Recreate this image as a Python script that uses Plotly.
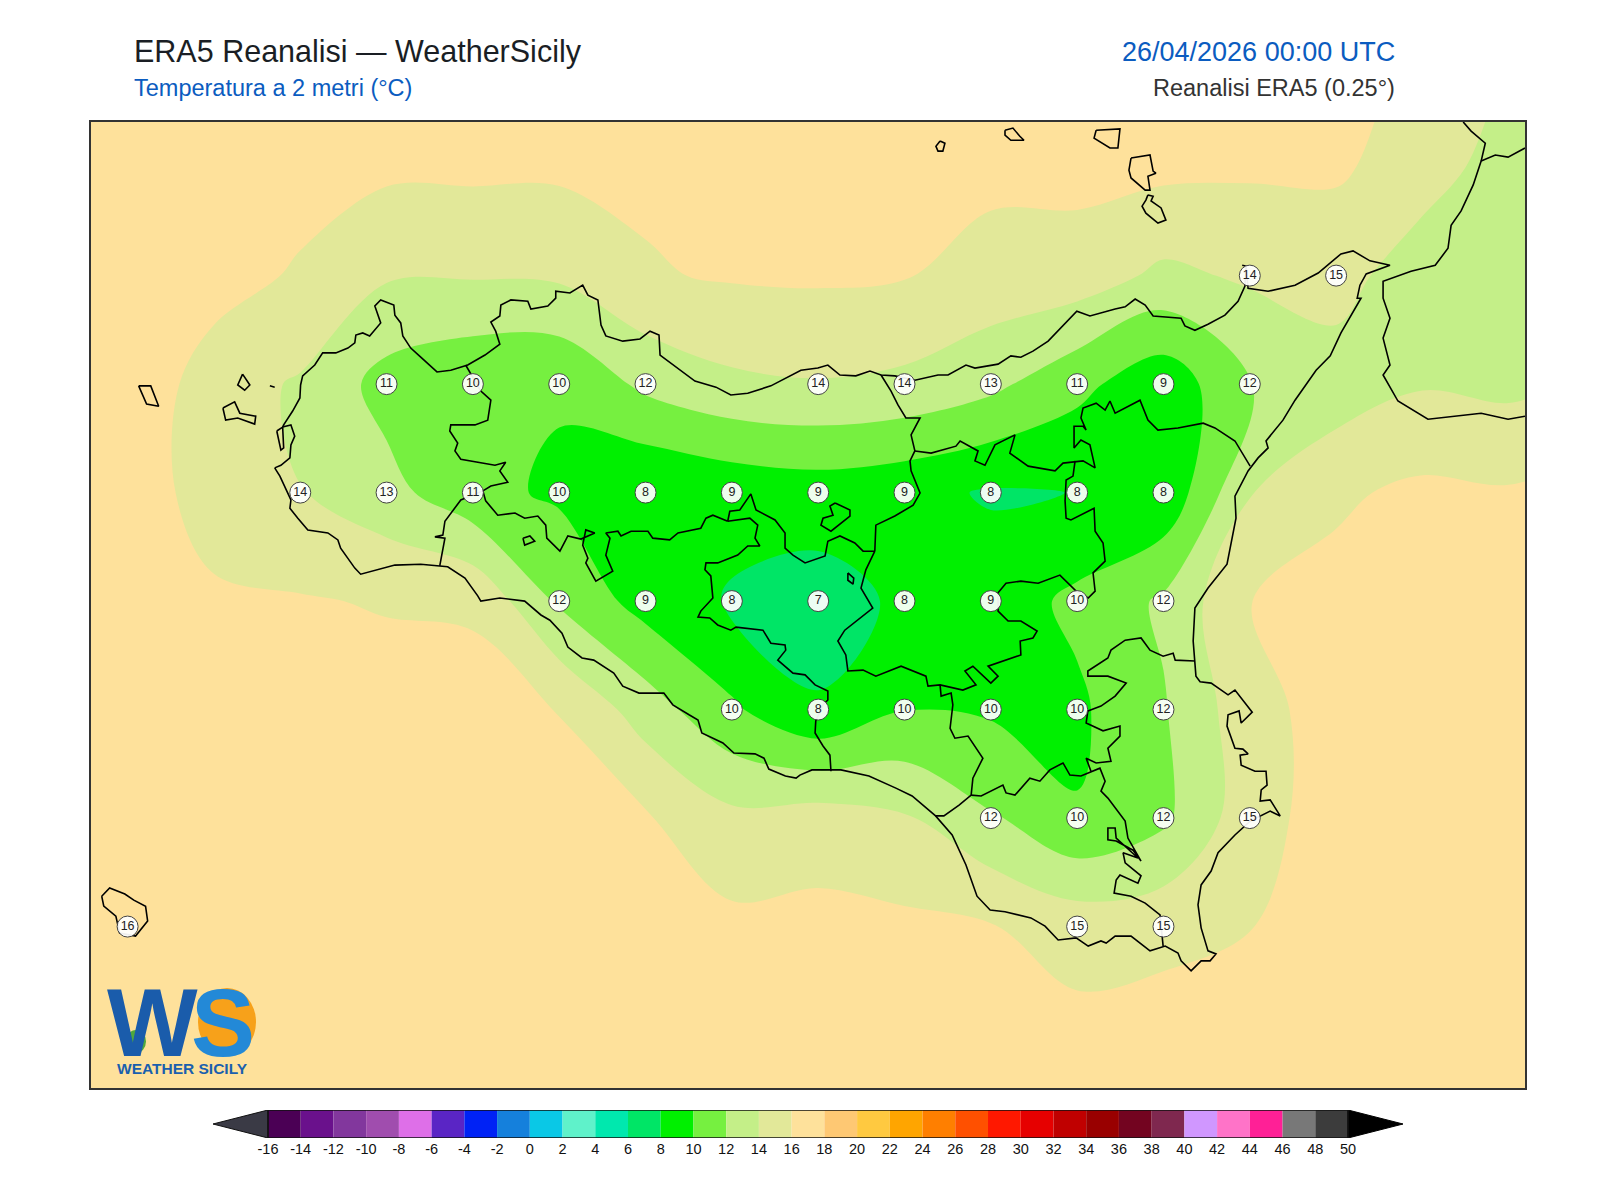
import plotly.graph_objects as go

lons = [11.75, 12.0, 12.25, 12.5, 12.75, 13.0, 13.25, 13.5, 13.75, 14.0, 14.25, 14.5, 14.75, 15.0, 15.25, 15.5, 15.75, 16.0, 16.25]
lats = [38.75, 38.5, 38.25, 38.0, 37.75, 37.5, 37.25, 37.0, 36.75, 36.5, 36.25]

t2m_3875 = [17.5, 17.5, 17.5, 17.5, 17.5, 17.5, 17.5, 17.5, 17.5, 17.5, 17.5, 17.5, 17.5, 17.5, 17.5, 17.0, 15.5, 14.1, 13.5]
t2m_3850 = [17.5, 17.5, 17.3, 17.0, 16.39, 16.4, 16.36, 16.32, 17.0, 17.2, 17.2, 16.47, 16.6, 16.5, 16.3, 16.23, 15.23, 12.77, 12.5]
t2m_3825 = [17.5, 17.5, 17.0, 15.7, 14.2, 14.15, 14.3, 15.84, 16.18, 16.28, 16.1, 15.3, 15.08, 13.56, 14.29, 15.0, 12.5, 12.3, 12.2]
t2m_3800 = [17.9, 17.8, 14.8, 13.8, 11.25, 10.3, 10.2, 12.45, 13.6, 13.87, 13.55, 12.5, 10.55, 8.68, 11.9, 12.8, 13.85, 13.54, 14.3]
t2m_3775 = [17.5, 17.0, 15.2, 14.03, 12.7, 10.55, 9.7, 8.05, 8.6, 8.97, 8.55, 7.82, 8.03, 8.4, 13.9, 15.7, 16.41, 16.19, 17.0]
t2m_3750 = [17.5, 17.5, 16.27, 16.15, 15.85, 15.7, 11.7, 9.2, 7.84, 7.17, 8.33, 8.95, 10.43, 12.3, 15.98, 16.6, 17.3, 17.3, 17.5]
t2m_3725 = [17.5, 17.5, 17.2, 17.0, 16.85, 16.8, 15.96, 13.05, 10.3, 8.18, 9.95, 9.75, 9.65, 11.83, 15.28, 16.85, 17.5, 17.5, 17.5]
t2m_3700 = [17.5, 17.5, 17.5, 17.5, 17.2, 17.0, 16.4, 16.2, 14.5, 14.95, 14.21, 12.22, 10.12, 11.6, 15.24, 16.89, 17.5, 17.5, 17.5]
t2m_3675 = [17.5, 16.4, 17.0, 17.3, 17.5, 17.5, 17.5, 17.3, 16.47, 16.58, 16.42, 16.1, 15.2, 15.4, 15.96, 16.6, 17.5, 17.5, 17.5]
t2m_3650 = [17.5, 17.5, 17.5, 17.5, 17.5, 17.5, 17.5, 17.5, 17.5, 17.5, 17.5, 17.0, 16.56, 16.86, 17.0, 17.5, 17.5, 17.5, 17.5]
t2m_3625 = [17.5, 17.5, 17.5, 17.5, 17.5, 17.5, 17.5, 17.5, 17.5, 17.5, 17.5, 17.5, 17.5, 17.5, 17.5, 17.5, 17.5, 17.5, 17.5]
t2m = [t2m_3875, t2m_3850, t2m_3825, t2m_3800, t2m_3775, t2m_3750, t2m_3725, t2m_3700, t2m_3675, t2m_3650, t2m_3625]

# punti con etichetta sulla terraferma
label_lon = [15.25, 15.5,
             12.75, 13.0, 13.25, 13.5, 14.0, 14.25, 14.5, 14.75, 15.0, 15.25,
             12.5, 12.75, 13.0, 13.25, 13.5, 13.75, 14.0, 14.25, 14.5, 14.75, 15.0,
             13.25, 13.5, 13.75, 14.0, 14.25, 14.5, 14.75, 15.0,
             13.75, 14.0, 14.25, 14.5, 14.75, 15.0,
             14.5, 14.75, 15.0, 15.25,
             12.0, 14.75, 15.0]
label_lat = [38.25, 38.25,
             38.0, 38.0, 38.0, 38.0, 38.0, 38.0, 38.0, 38.0, 38.0, 38.0,
             37.75, 37.75, 37.75, 37.75, 37.75, 37.75, 37.75, 37.75, 37.75, 37.75, 37.75,
             37.5, 37.5, 37.5, 37.5, 37.5, 37.5, 37.5, 37.5,
             37.25, 37.25, 37.25, 37.25, 37.25, 37.25,
             37.0, 37.0, 37.0, 37.0,
             36.75, 36.75, 36.75]
label_val = [14, 15,
             11, 10, 10, 12, 14, 14, 13, 11, 9, 12,
             14, 13, 11, 10, 8, 9, 9, 9, 8, 8, 8,
             12, 9, 8, 7, 8, 9, 10, 12,
             10, 8, 10, 10, 10, 12,
             12, 10, 12, 15,
             16, 15, 15]

# scala colori
levels = [-16, -14, -12, -10, -8, -6, -4, -2, 0, 2, 4, 6, 8, 10, 12, 14, 16, 18, 20, 22, 24, 26, 28, 30, 32, 34, 36, 38, 40, 42, 44, 46, 48]
band_colors = ["#4b0055", "#6a118c", "#82379d", "#a04dae", "#de6fe8", "#5a25c5", "#0022f5", "#1580dc", "#0ac8e6", "#5ff2ca", "#00e8ae",
               "#00e566", "#00f000", "#76f040", "#c4ef88", "#e2e899", "#fee19b", "#fec873", "#ffc940", "#ffa500", "#ff7f00", "#ff5000",
               "#ff1800", "#e60000", "#c00000", "#990000", "#730420", "#7f284f", "#d097ff", "#ff73c8", "#ff2096", "#787878", "#3c3c3c"]
tick_vals = levels + [50]
under_color = "#3a3a45"
over_color = "#000000"

# coste e confini (lon, lat) digitalizzati dalla mappa
sicilia = [(12.426,37.807),(12.444,37.813),(12.470,37.830),(12.473,37.860),(12.484,37.880),(12.473,37.906),(12.449,37.901),(12.452,37.906),
    (12.478,37.938),(12.499,37.968),(12.501,37.998),(12.507,38.019),(12.542,38.044),(12.565,38.072),(12.603,38.072),(12.638,38.083),
    (12.658,38.095),(12.661,38.113),(12.681,38.118),(12.701,38.111),(12.733,38.141),(12.716,38.180),(12.733,38.194),(12.771,38.182),
    (12.774,38.159),(12.791,38.141),(12.797,38.111),(12.820,38.083),(12.849,38.062),(12.875,38.044),(12.896,38.028),(12.936,38.032),
    (12.985,38.044),(13.035,38.067),(13.078,38.092),(13.066,38.122),(13.052,38.143),(13.078,38.157),(13.081,38.182),(13.110,38.194),
    (13.159,38.191),(13.168,38.173),(13.217,38.180),(13.240,38.198),(13.240,38.214),(13.281,38.210),(13.318,38.228),(13.333,38.205),
    (13.362,38.194),(13.371,38.136),(13.385,38.111),(13.434,38.099),(13.484,38.104),(13.513,38.122),(13.539,38.113),(13.542,38.067),
    (13.585,38.042),(13.643,38.007),(13.704,37.993),(13.747,37.975),(13.796,37.979),(13.863,37.996),(13.950,38.032),(13.999,38.037),
    (14.028,38.044),(14.063,38.021),(14.109,38.019),(14.150,38.030),(14.182,38.021),(14.222,38.019),(14.280,38.009),(14.347,38.021),
    (14.376,38.021),(14.428,38.044),(14.454,38.037),(14.521,38.046),(14.558,38.065),(14.587,38.062),(14.622,38.076),(14.666,38.099),
    (14.749,38.168),(14.787,38.157),(14.860,38.173),(14.889,38.178),(14.918,38.196),(14.947,38.182),(14.970,38.157),(15.051,38.152),
    (15.062,38.134),(15.091,38.124),(15.129,38.138),(15.178,38.159),(15.216,38.191),(15.236,38.226),(15.239,38.272),(15.228,38.274),
    (15.239,38.272),(15.245,38.221),(15.303,38.214),(15.381,38.228),(15.448,38.256),(15.514,38.300),(15.549,38.307),(15.598,38.284),
    (15.656,38.274),(15.587,38.254),(15.569,38.228),(15.561,38.198),(15.572,38.198),(15.514,38.118),(15.483,38.065),(15.442,38.032),
    (15.381,37.963),(15.346,37.917),(15.297,37.869),(15.303,37.853),(15.274,37.830),(15.245,37.800),(15.207,37.742),(15.210,37.691),
    (15.184,37.585),(15.129,37.530),(15.091,37.484),(15.086,37.408),(15.094,37.327),(15.106,37.314),(15.138,37.311),(15.187,37.284),
    (15.207,37.295),(15.257,37.244),(15.225,37.219),(15.219,37.247),(15.187,37.238),(15.184,37.212),(15.207,37.161),(15.230,37.159),
    (15.245,37.148),(15.222,37.145),(15.225,37.122),(15.265,37.108),(15.297,37.108),(15.300,37.076),(15.283,37.065),(15.280,37.039),
    (15.309,37.042),(15.338,37.005),(15.309,37.016),(15.251,36.993),(15.207,36.961),(15.158,36.920),(15.138,36.878),(15.109,36.846),
    (15.100,36.800),(15.109,36.747),(15.129,36.694),(15.152,36.687),(15.135,36.671),(15.109,36.671),(15.080,36.648),(15.051,36.671),
    (15.042,36.689),(15.005,36.705),(14.961,36.694),(14.906,36.728),(14.860,36.728),(14.834,36.712),(14.819,36.717),(14.782,36.705),
    (14.747,36.724),(14.695,36.719),(14.657,36.751),(14.616,36.770),(14.541,36.784),(14.498,36.788),(14.460,36.820),(14.428,36.892),
    (14.388,36.961),(14.340,37.005),(14.272,37.051),(14.225,37.069),(14.147,37.097),(14.066,37.111),(13.982,37.111),(13.947,37.099),
    (13.936,37.092),(13.905,37.097),(13.857,37.113),(13.843,37.138),(13.817,37.148),(13.756,37.150),(13.724,37.173),(13.663,37.196),
    (13.652,37.226),(13.626,37.238),(13.579,37.261),(13.553,37.288),(13.527,37.288),(13.481,37.288),(13.434,37.304),(13.408,37.334),
    (13.350,37.364),(13.316,37.369),(13.275,37.394),(13.258,37.426),(13.223,37.456),(13.197,37.468),(13.150,37.500),(13.078,37.507),
    (13.023,37.500),(13.014,37.512),(12.977,37.553),(12.927,37.579),(12.849,37.585),(12.774,37.583),(12.675,37.562),(12.658,37.576),
    (12.617,37.622),(12.609,37.641),(12.580,37.657),(12.522,37.664),(12.493,37.691),(12.470,37.714),(12.473,37.733),(12.441,37.788),(12.426,37.807)]

trapani_palermo = [(12.979,38.044),(13.023,37.984),(13.052,37.963),(13.043,37.917),(13.006,37.906),(12.936,37.906),(12.933,37.892),(12.956,37.864),
    (12.948,37.846),(12.965,37.827),(13.064,37.813),(13.095,37.820),(13.078,37.800),(13.101,37.774),(13.052,37.765),(13.029,37.754)]
trapani_agrigento = [(13.029,37.754),(12.965,37.733),(12.919,37.684),(12.913,37.652),(12.890,37.648),(12.919,37.645),(12.904,37.581)]
palermo_agrigento = [(13.029,37.754),(13.037,37.731),(13.072,37.698),(13.122,37.703),(13.150,37.691),(13.188,37.696),(13.211,37.675),(13.214,37.645),
    (13.252,37.615),(13.275,37.650),(13.313,37.643),(13.353,37.657),(13.327,37.664),(13.318,37.629),(13.333,37.599),(13.327,37.588),(13.356,37.546),
    (13.405,37.569),(13.385,37.606),(13.397,37.645),(13.385,37.657),(13.420,37.661),(13.429,37.650),(13.458,37.661),(13.507,37.661),(13.521,37.645),
    (13.570,37.641),(13.594,37.657),(13.660,37.668),(13.675,37.691),(13.695,37.698),(13.738,37.684)]
caltanissetta_ovest = [(13.738,37.684),(13.802,37.691),(13.825,37.675),(13.817,37.645),(13.831,37.627),(13.796,37.627),(13.767,37.606),(13.709,37.588),
    (13.675,37.588),(13.672,37.572),(13.689,37.558),(13.695,37.507),(13.660,37.477),(13.652,37.463),(13.686,37.461),(13.709,37.445),(13.747,37.433),
    (13.762,37.440),(13.840,37.433),(13.849,37.422),(13.863,37.403),(13.904,37.399),(13.906,37.387),(13.883,37.364),(13.927,37.334),(13.962,37.330),
    (13.991,37.307),(14.028,37.293),(14.028,37.272),(14.014,37.261),(13.993,37.224),(13.991,37.196),(14.014,37.166),(14.034,37.145),(14.037,37.108)]
caltanissetta_nord = [(13.738,37.684),(13.744,37.707),(13.773,37.710),(13.805,37.747),(13.820,37.710),(13.875,37.687),(13.904,37.657),(13.904,37.622),
    (13.927,37.606),(13.962,37.588),(14.020,37.604),(14.028,37.638),(14.063,37.650),(14.106,37.634),(14.130,37.615),(14.164,37.615)]
palermo_messina = [(14.164,37.615),(14.165,37.668),(14.167,37.675),(14.222,37.696),(14.275,37.721),(14.295,37.749),(14.269,37.800),(14.266,37.823),
    (14.280,37.846),(14.269,37.883),(14.295,37.922),(14.254,37.922),(14.231,37.952),(14.211,37.984),(14.182,38.021)]
enna_messina = [(14.280,37.846),(14.327,37.841),(14.399,37.857),(14.411,37.869),(14.463,37.846),(14.454,37.823),(14.483,37.813),(14.512,37.860),
    (14.570,37.883),(14.555,37.841),(14.608,37.811),(14.686,37.800),(14.709,37.818),(14.767,37.823),(14.802,37.807),(14.787,37.860),(14.761,37.871),
    (14.741,37.853),(14.741,37.903),(14.767,37.903),(14.776,37.894),(14.761,37.922),(14.767,37.945),(14.805,37.956),(14.831,37.940),(14.845,37.961),
    (14.860,37.933),(14.932,37.963),(14.955,37.917),(14.984,37.894),(15.042,37.899),(15.115,37.910),(15.149,37.899),(15.207,37.869),(15.251,37.811)]
enna_catania = [(14.744,37.823),(14.738,37.788),(14.718,37.779),(14.715,37.731),(14.718,37.691),(14.732,37.687),(14.799,37.714),(14.802,37.661),
    (14.825,37.634),(14.831,37.592),(14.796,37.565),(14.802,37.523),(14.782,37.507),(14.747,37.523),(14.700,37.560),(14.637,37.541),(14.587,37.546),
    (14.544,37.541),(14.521,37.519),(14.521,37.477),(14.550,37.454),(14.587,37.454),(14.634,37.431),(14.622,37.415),(14.585,37.408),(14.587,37.376),
    (14.492,37.350),(14.521,37.327),(14.500,37.311),(14.448,37.350),(14.425,37.339),(14.457,37.307),(14.419,37.295),(14.353,37.307),(14.318,37.304),
    (14.312,37.327),(14.240,37.350),(14.167,37.327),(14.130,37.341),(14.086,37.339),(14.080,37.376),(14.057,37.408),(14.077,37.433),(14.158,37.484),
    (14.124,37.530),(14.138,37.572),(14.164,37.615)]
caltanissetta_est = [(14.353,37.307),(14.356,37.281),(14.385,37.288),(14.390,37.261),(14.382,37.207),(14.396,37.184),(14.434,37.189),(14.477,37.138),
    (14.448,37.092),(14.443,37.053),(14.408,37.030),(14.364,37.005),(14.340,37.005)]
ragusa_catania = [(14.443,37.053),(14.472,37.051),(14.535,37.076),(14.544,37.058),(14.570,37.053),(14.613,37.092),(14.642,37.085),(14.671,37.111),
    (14.709,37.127),(14.729,37.099),(14.761,37.097),(14.796,37.108),(14.816,37.115),(14.831,37.085),(14.819,37.062),(14.839,37.046),(14.889,36.993),
    (14.897,36.954),(14.935,36.901),(14.912,36.926),(14.863,36.947),(14.839,36.950),(14.839,36.977),(14.860,36.977),(14.863,36.954),(14.926,36.908),
    (14.883,36.920),(14.889,36.897),(14.935,36.867),(14.926,36.850),(14.874,36.869),(14.863,36.857),(14.857,36.827),(14.906,36.820),(14.947,36.804),
    (14.990,36.777),(14.999,36.705)]
catania_sud = [(14.781,37.247),(14.776,37.219),(14.825,37.201),(14.874,37.212),(14.874,37.189),(14.839,37.161),(14.848,37.131),(14.805,37.127),(14.776,37.138),(14.790,37.108)]
catania_siracusa = [(14.781,37.247),(14.819,37.258),(14.860,37.281),(14.892,37.311),(14.839,37.327),(14.781,37.327),(14.781,37.339),(14.839,37.369),
    (14.848,37.387),(14.889,37.410),(14.935,37.415),(14.961,37.387),(14.999,37.373),(15.028,37.380),(15.034,37.364),(15.091,37.362)]

lago_1 = [(14.049,37.726),(14.092,37.710),(14.092,37.696),(14.037,37.661),(14.008,37.675),(14.014,37.691),(14.043,37.698),(14.034,37.719),(14.049,37.726)]
lago_2 = [(13.145,37.645),(13.165,37.650),(13.179,37.638),(13.150,37.629),(13.145,37.645)]
lago_3 = [(14.086,37.565),(14.103,37.553),(14.101,37.539),(14.086,37.548),(14.086,37.565)]
stagnone = [(12.432,37.892),(12.449,37.901),(12.452,37.853),(12.444,37.848),(12.432,37.892)]

calabria = [(15.868,38.604),(15.891,38.583),(15.932,38.555),(15.920,38.514),(15.897,38.459),(15.862,38.399),(15.833,38.366),(15.824,38.313),(15.787,38.274),
    (15.717,38.260),(15.636,38.237),(15.636,38.198),(15.656,38.152),(15.636,38.106),(15.656,38.044),(15.636,38.021),(15.679,37.961),(15.766,37.919),
    (15.920,37.933),(15.998,37.919),(16.047,37.926)]
calabria_nord = [(15.920,38.514),(15.961,38.528),(15.998,38.523),(16.047,38.544)]

alicudi = [(14.353,38.560),(14.367,38.555),(14.361,38.537),(14.347,38.537),(14.341,38.548),(14.353,38.560)]
filicudi = [(14.541,38.585),(14.564,38.590),(14.584,38.571),(14.596,38.562),(14.558,38.562),(14.541,38.574),(14.541,38.585)]
salina = [(14.805,38.585),(14.874,38.588),(14.868,38.544),(14.845,38.544),(14.799,38.567),(14.805,38.585)]
lipari = [(14.906,38.521),(14.961,38.528),(14.970,38.491),(14.978,38.486),(14.955,38.479),(14.961,38.447),(14.947,38.447),(14.906,38.475),(14.900,38.493),(14.906,38.521)]
vulcano = [(14.955,38.436),(14.970,38.433),(14.964,38.422),(14.993,38.406),(15.007,38.378),(14.984,38.371),(14.949,38.394),(14.938,38.410),(14.949,38.424),(14.955,38.436)]
levanzo = [(12.333,38.023),(12.354,37.998),(12.339,37.986),(12.319,37.998),(12.333,38.023)]
favignana = [(12.276,37.945),(12.310,37.959),(12.325,37.933),(12.371,37.926),(12.368,37.908),(12.319,37.922),(12.284,37.917),(12.276,37.945)]
marettimo = [(12.032,37.996),(12.067,37.996),(12.090,37.949),(12.055,37.954),(12.032,37.996)]
formica = [(12.412,37.996),(12.426,37.993)]
pantelleria = [(11.925,36.820),(11.948,36.839),(11.992,36.825),(12.018,36.811),(12.052,36.797),(12.058,36.763),(12.023,36.728),(11.977,36.735),(11.966,36.774),(11.931,36.797),(11.925,36.820)]

outlines = [sicilia, trapani_palermo, trapani_agrigento, palermo_agrigento, caltanissetta_ovest, caltanissetta_nord, palermo_messina,
            enna_messina, enna_catania, caltanissetta_est, ragusa_catania, catania_sud, catania_siracusa, lago_1, lago_2, lago_3, stagnone,
            calabria, calabria_nord, alicudi, filicudi, salina, lipari, vulcano, levanzo, favignana, marettimo, formica, pantelleria]

W, H = 1600, 1200
FONT = "Liberation Sans"


def px(x):
    return x / W


def py(y):
    return 1 - y / H


# colorscale a gradini per il contour
zmin, zmax = -16, 50
colorscale = []
for i, col in enumerate(band_colors):
    colorscale.append([(levels[i] - zmin) / (zmax - zmin), col])
    colorscale.append([(levels[i] + 2 - zmin) / (zmax - zmin), col])

fig = go.Figure()

fig.add_trace(go.Contour(
    x=lons, y=lats, z=t2m, zmin=zmin, zmax=zmax, colorscale=colorscale, showscale=False,
    contours=dict(start=-16, end=50, size=2, coloring="fill", showlines=False),
    line=dict(width=0), hoverinfo="skip",
))

for outline in outlines:
    fig.add_trace(go.Scatter(
        x=[p[0] for p in outline], y=[p[1] for p in outline], mode="lines",
        line=dict(color="#000000", width=1.6), hoverinfo="skip", showlegend=False,
    ))

fig.add_trace(go.Scatter(
    x=label_lon, y=label_lat, mode="markers+text", text=[str(v) for v in label_val],
    textposition="middle center", textfont=dict(family=FONT, size=12.5, color="#222222"),
    marker=dict(size=21, color="rgba(255,255,255,0.93)", line=dict(color="#444444", width=1)),
    hoverinfo="skip", showlegend=False,
))

# barra colori: rettangoli veri su un secondo asse
fig.add_trace(go.Bar(
    x=[2] * len(levels), y=[0.5] * len(levels), base=levels, orientation="h", width=1,
    marker=dict(color=band_colors, line=dict(width=0)),
    xaxis="x2", yaxis="y2", hoverinfo="skip", showlegend=False,
))
tip = 3.36
fig.add_trace(go.Scatter(x=[-16, -16 - tip, -16, -16], y=[0, 0.5, 1, 0], mode="lines", fill="toself", fillcolor=under_color,
                         line=dict(color="#111111", width=1), xaxis="x2", yaxis="y2", hoverinfo="skip", showlegend=False))
fig.add_trace(go.Scatter(x=[50, 50 + tip, 50, 50], y=[0, 0.5, 1, 0], mode="lines", fill="toself", fillcolor=over_color,
                         line=dict(color="#000000", width=1), xaxis="x2", yaxis="y2", hoverinfo="skip", showlegend=False))
fig.add_trace(go.Scatter(x=[-16, 50, 50, -16, -16], y=[0, 0, 1, 1, 0], mode="lines", line=dict(color="#111111", width=1.5),
                         xaxis="x2", yaxis="y2", hoverinfo="skip", showlegend=False))

annotations = [
    dict(text="ERA5 Reanalisi — WeatherSicily", x=px(124), y=py(43), xanchor="left", font=dict(size=30.5, color="#1a1e24")),
    dict(text="Temperatura a 2 metri (°C)", x=px(124), y=py(80), xanchor="left", font=dict(size=23.5, color="#0b5cc0")),
    dict(text="26/04/2026 00:00 UTC", x=px(1389), y=py(44), xanchor="right", font=dict(size=27, color="#0b5cc0")),
    dict(text="Reanalisi ERA5 (0.25°)", x=px(1389), y=py(80), xanchor="right", font=dict(size=23.5, color="#333333")),
    # logo
    dict(text="<b>W</b>", x=px(144), y=py(1014), xanchor="center", font=dict(size=96, color="#1a5cab")),
    dict(text="<b>S</b>", x=px(215), y=py(1014), xanchor="center", font=dict(size=96, color="#2389d7")),
    dict(text="<b>WEATHER SICILY</b>", x=px(174), y=py(1060), xanchor="center", font=dict(size=15.5, color="#1a5fae")),
]
for a in annotations:
    a.update(xref="paper", yref="paper", yanchor="middle", showarrow=False)
    a["font"]["family"] = FONT

shapes = [
    dict(type="circle", xref="paper", yref="paper", x0=px(190), x1=px(248), y0=py(1048), y1=py(980),
         fillcolor="#f7a11a", line=dict(width=0), layer="above"),
    dict(type="circle", xref="paper", yref="paper", x0=px(118), x1=px(138), y0=py(1045), y1=py(1022),
         fillcolor="#4fa83d", line=dict(width=0), layer="above"),
]

fig.update_layout(
    width=W, height=H, margin=dict(l=0, r=0, t=0, b=0), paper_bgcolor="white", plot_bgcolor="white",
    showlegend=False, barmode="overlay", annotations=annotations,
    xaxis=dict(domain=[px(83), px(1517)], range=[11.894, 16.047], showticklabels=False, ticks="", showgrid=False, zeroline=False,
               showline=True, mirror=True, linecolor="#333333", linewidth=2),
    yaxis=dict(domain=[py(1080), py(114)], range=[36.378, 38.604], showticklabels=False, ticks="", showgrid=False, zeroline=False,
               showline=True, mirror=True, linecolor="#333333", linewidth=2),
    xaxis2=dict(domain=[px(205), px(1395)], range=[-16 - tip, 50 + tip], anchor="y2", tickmode="array", tickvals=tick_vals,
                ticktext=[str(v) for v in tick_vals], tickfont=dict(family=FONT, size=14.5, color="#111111"),
                ticks="", showgrid=False, zeroline=False, showline=False),
    yaxis2=dict(domain=[py(1130), py(1102)], range=[0, 1], anchor="x2", showticklabels=False, ticks="", showgrid=False, zeroline=False),
)
# il logo sta sopra la mappa: S sopra al cerchio arancione
fig.update_layout(shapes=shapes)

fig.write_html("out.html")
